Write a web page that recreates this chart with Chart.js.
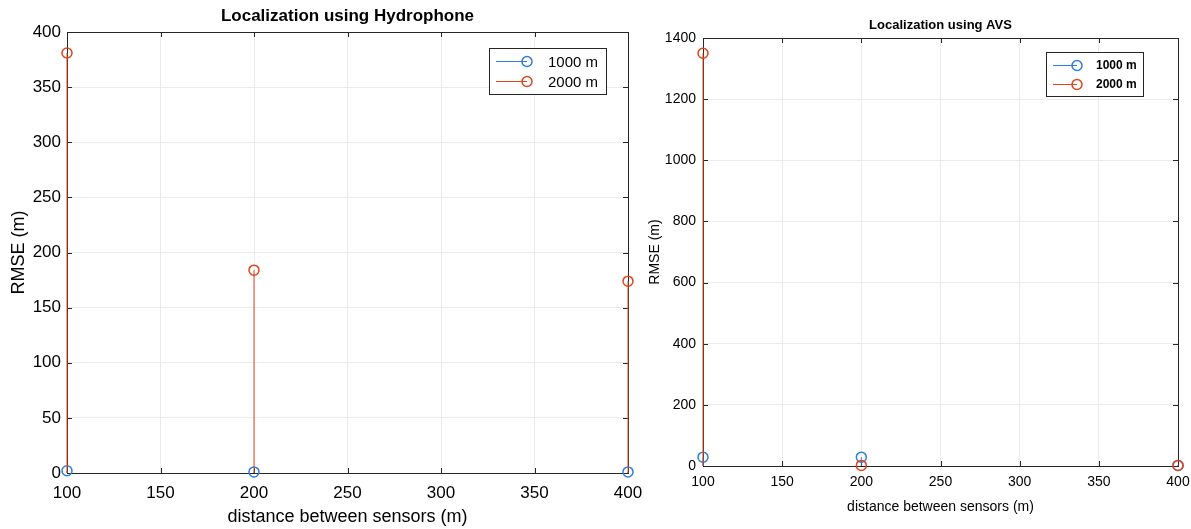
<!DOCTYPE html>
<html>
<head>
<meta charset="utf-8">
<script src="https://cdn.jsdelivr.net/npm/chart.js@4.4.1/dist/chart.umd.min.js"></script>
<style>
  html, body { margin:0; padding:0; background:#fff; }
  body { width:1191px; height:529px; position:relative; overflow:hidden; font-family:"Liberation Sans", Arial, sans-serif; }
  .plot { position:absolute; top:0; }
  .legend {
    position:absolute; background:#fff; border:1px solid #262626;
    font-family:"Liberation Sans", Arial, sans-serif; color:#000;
  }
  .legend-row { display:flex; align-items:center; white-space:nowrap; }
  .legend-row canvas { display:block; }
</style>
</head>
<body>
<canvas id="hyd" class="plot" width="660" height="529" style="left:0"></canvas>
<canvas id="avs" class="plot" width="570" height="529" style="left:640px"></canvas>
<div id="leg-hyd" class="legend" style="left:489px;top:48px;padding:2px 8px 3px 4px;font-size:15px;"></div>
<div id="leg-avs" class="legend" style="left:1046px;top:52px;padding:2px 6px 3px 4px;font-size:12px;font-weight:bold;"></div>

<script>
/* ---- data ---- */
var DIST        = [100, 200, 400];
var SERIES      = ['1000 m', '2000 m'];
var HYD_1000    = [2, 1, 1];
var HYD_2000    = [381, 184, 174];
var AVS_1000    = [29, 29, 2];
var AVS_2000    = [1350, 2, 2];
var X_TICKS     = [100, 150, 200, 250, 300, 350, 400];
var HYD_Y_MAX   = 400, HYD_Y_STEP = 50;
var AVS_Y_MAX   = 1400, AVS_Y_STEP = 200;

var BLUE = '#2f7ddc';
var RED  = '#e0441c';
var AXIS = '#262626';
var GRID = '#ebebeb';
var FONT = '"Liberation Sans", Arial, sans-serif';

/* stem points: base at 0, value, then a gap */
function stems(xs, ys) {
  var pts = [];
  xs.forEach(function(x, i) {
    pts.push({ x: x, y: 0, base: true });
    pts.push({ x: x, y: ys[i] });
    pts.push({ x: x, y: null });
  });
  return pts;
}

function stemSet(label, xs, ys, color, r, order) {
  return {
    label: label, data: stems(xs, ys), order: order, clip: false,
    borderColor: color, backgroundColor: 'rgba(0,0,0,0)',
    borderWidth: 1, spanGaps: false, tension: 0,
    pointRadius: function(c) { return c.raw && c.raw.base ? 0 : r; },
    pointBorderColor: color, pointBorderWidth: 1.5,
    pointBackgroundColor: 'rgba(0,0,0,0)',
  };
}

/* axes box and inward tick marks under the stems, title on top (MATLAB look) */
var boxPlugin = {
  id: 'box',
  beforeDatasetsDraw: function(chart, args, opts) {
    var a = chart.chartArea, ctx = chart.ctx;
    var sx = chart.scales.x, sy = chart.scales.y;
    ctx.save();
    ctx.strokeStyle = AXIS; ctx.lineWidth = 1;
    ctx.strokeRect(Math.round(a.left) + 0.5, Math.round(a.top) + 0.5,
                   Math.round(a.right - a.left), Math.round(a.bottom - a.top));
    ctx.beginPath();
    sx.ticks.forEach(function(t) {
      var px = Math.round(sx.getPixelForValue(t.value)) + 0.5;
      ctx.moveTo(px, a.bottom); ctx.lineTo(px, a.bottom - opts.tick);
      ctx.moveTo(px, a.top);    ctx.lineTo(px, a.top + opts.tick);
    });
    sy.ticks.forEach(function(t) {
      var py = Math.round(sy.getPixelForValue(t.value)) + 0.5;
      ctx.moveTo(a.left, py);  ctx.lineTo(a.left + opts.tick, py);
      ctx.moveTo(a.right, py); ctx.lineTo(a.right - opts.tick, py);
    });
    ctx.stroke();
    ctx.restore();
  },
  afterDraw: function(chart, args, opts) {
    var a = chart.chartArea, ctx = chart.ctx;
    ctx.save();
    ctx.fillStyle = '#000';
    ctx.font = 'bold ' + opts.size + 'px ' + FONT;
    ctx.textAlign = 'center'; ctx.textBaseline = 'middle';
    ctx.fillText(opts.text, (a.left + a.right) / 2, opts.y);
    ctx.restore();
  }
};

function makeChart(id, cfg) {
  return new Chart(document.getElementById(id), {
    type: 'line',
    data: {
      datasets: [
        stemSet(SERIES[0], DIST, cfg.s1, BLUE, cfg.r, 1),
        stemSet(SERIES[1], DIST, cfg.s2, RED, cfg.r, 0),
      ]
    },
    options: {
      responsive: false, animation: false,
      layout: { padding: { top: cfg.top, right: cfg.right, left: 0, bottom: 0 } },
      plugins: {
        legend: { display: false }, tooltip: { enabled: false },
        box: { text: cfg.title, size: cfg.titleSize, y: cfg.titleY, tick: cfg.tick },
      },
      scales: {
        x: {
          type: 'linear', min: 100, max: 400,
          afterBuildTicks: function(s) { s.ticks = X_TICKS.map(function(v){ return { value: v }; }); },
          afterFit: function(s) { s.height = cfg.xh; },
          grid: { color: GRID, drawTicks: false },
          border: { display: false },
          ticks: { color: '#000', padding: cfg.xpad, maxRotation: 0,
                   callback: function(v) { return String(v); },
                   font: { family: FONT, size: cfg.tickSize } },
          title: { display: true, text: 'distance between sensors (m)', color: '#000',
                   padding: { top: 0, bottom: cfg.xtpad }, font: { family: FONT, size: cfg.labSize } },
        },
        y: {
          type: 'linear', min: 0, max: cfg.ymax,
          afterFit: function(s) { s.width = cfg.yw; },
          grid: { color: GRID, drawTicks: false },
          border: { display: false },
          ticks: { stepSize: cfg.ystep, color: '#000', padding: cfg.ypad,
                   callback: function(v) { return String(v); },
                   font: { family: FONT, size: cfg.tickSize } },
          title: { display: true, text: 'RMSE (m)', color: '#000',
                   padding: { top: cfg.ytpad, bottom: 0 }, font: { family: FONT, size: cfg.labSize } },
        },
      },
    },
    plugins: [boxPlugin],
  });
}

makeChart('hyd', {
  s1: HYD_1000, s2: HYD_2000, ymax: HYD_Y_MAX, ystep: HYD_Y_STEP,
  title: 'Localization using Hydrophone', titleSize: 17, titleY: 16, tick: 5,
  top: 32, right: 32, xh: 56, yw: 67, xpad: 10, ypad: 6, xtpad: 1, ytpad: 8,
  tickSize: 17, labSize: 18, r: 5,
});

makeChart('avs', {
  s1: AVS_1000, s2: AVS_2000, ymax: AVS_Y_MAX, ystep: AVS_Y_STEP,
  title: 'Localization using AVS', titleSize: 13, titleY: 25, tick: 5,
  top: 38, right: 32, xh: 63, yw: 63, xpad: 8, ypad: 7, xtpad: 13, ytpad: 7,
  tickSize: 14, labSize: 14, r: 5,
});

/* legends: line with circle marker, MATLAB style */
function legendIcon(color, w, r) {
  var c = document.createElement('canvas');
  c.width = w; c.height = 16;
  var g = c.getContext('2d');
  g.strokeStyle = color; g.lineWidth = 1;
  g.beginPath(); g.moveTo(2, 8.5); g.lineTo(w - 2 - r, 8.5); g.stroke();
  g.lineWidth = 1.5;
  g.beginPath(); g.arc(w - 2 - r, 8.5, r, 0, Math.PI * 2); g.stroke();
  return c;
}

function buildLegend(id, w, r, gap, rowH) {
  var leg = document.getElementById(id);
  [BLUE, RED].forEach(function(col, i) {
    var row = document.createElement('div');
    row.className = 'legend-row';
    row.style.height = rowH + 'px';
    row.appendChild(legendIcon(col, w, r));
    var s = document.createElement('span');
    s.textContent = SERIES[i];
    s.style.marginLeft = gap + 'px';
    row.appendChild(s);
    leg.appendChild(row);
  });
}
buildLegend('leg-hyd', 40, 5, 14, 20);
buildLegend('leg-avs', 33, 5, 12, 19);
</script>
</body>
</html>
